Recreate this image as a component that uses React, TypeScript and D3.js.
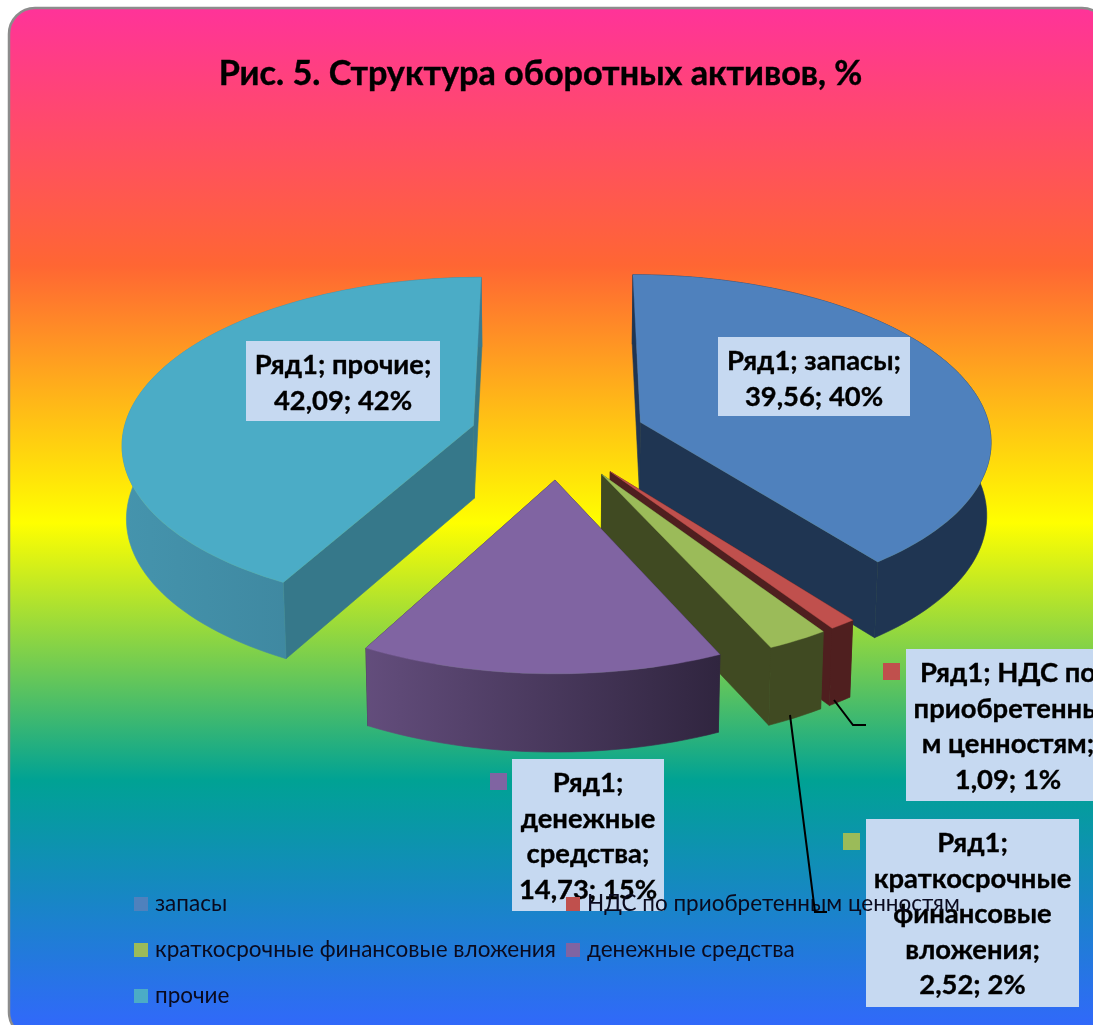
import React from "react";
import * as d3 from "d3";

const title = "Рис. 5. Структура оборотных активов, %";
const categories = ["запасы", "НДС по приобретенным ценностям", "краткосрочные финансовые вложения", "денежные средства", "прочие"];
const values = [39.56, 1.09, 2.52, 14.73, 42.09];
const labelLines = [
  ["Ряд1; запасы;", "39,56; 40%"],
  ["Ряд1; НДС по", "приобретенны", "м ценностям;", "1,09; 1%"],
  ["Ряд1;", "краткосрочные", "финансовые", "вложения;", "2,52; 2%"],
  ["Ряд1;", "денежные", "средства;", "14,73; 15%"],
  ["Ряд1; прочие;", "42,09; 42%"],
];
const topColors = ["#4f81bd", "#c0504d", "#9bbb59", "#8064a2", "#4bacc6"];
const wallFrom = ["#1f3552", "#4f1f1f", "#404a22", "#634d7c", "#4594ad"];
const wallTo = ["#1f3552", "#4f1f1f", "#404a22", "#30253f", "#387b93"];
const sideColors = ["#1f3552", "#4f1f1f", "#404a22", "#30253f", "#36788a"];
const drawOrder = [4, 0, 1, 2, 3];

const labelBoxes = [
  { x: 718, y: 337, w: 192, h: 79, key: null },
  { x: 906, y: 649, w: 204, h: 152, key: [883, 663] },
  { x: 866, y: 819, w: 213, h: 188, key: [843, 833] },
  { x: 512, y: 759, w: 152, h: 152, key: [490, 773] },
  { x: 246, y: 341, w: 194, h: 80, key: null },
];
const leaders = [
  [[834, 700], [853, 725], [866, 725]],
  [[790, 715], [815, 912], [827, 912]],
];
const legendSpots = [
  { x: 134, y: 897 },
  { x: 566, y: 897 },
  { x: 134, y: 943 },
  { x: 566, y: 943 },
  { x: 134, y: 989 },
];

const CX = 558, CY = 436, RX = 351, RY = 165, EXPLODE_X = 0.25, EXPLODE_Y = 0.26, PERSP = 0.1, DEPTH = 73, LEAN = 0.99;
const FONT = "Lato, 'Open Sans', sans-serif";
const xScale = d3.scaleLinear().domain([-1, 1]).range([-RX, RX]);
const yScale = d3.scaleLinear().domain([-1, 1]).range([-RY, RY]);

type P = [number, number];
const project = (wx: number, wy: number, low = false): P => {
  const s = 1 / (1 - PERSP * wy);
  const l = low ? LEAN : 1;
  return [CX + xScale(wx) * s * l, CY + yScale(wy) * s + (low ? DEPTH * (1 + 0.5 * (s - 1)) : 0)];
};
const line = d3.line<P>().x((d) => d[0]).y((d) => d[1]).curve(d3.curveLinear);
const poly = (pts: P[]) => line(pts) + "Z";

const pieArcs = d3.pie<number>().sort(null).startAngle(0).endAngle(2 * Math.PI)(values);

const slices = pieArcs.map((a, i) => {
  const mid = (a.startAngle + a.endAngle) / 2;
  const ox = EXPLODE_X * Math.sin(mid);
  const oy = -EXPLODE_Y * Math.cos(mid);
  const n = Math.max(4, Math.ceil((a.endAngle - a.startAngle) / 0.03));
  const angs = d3.range(n + 1).map((k) => a.startAngle + ((a.endAngle - a.startAngle) * k) / n);
  const rim = angs.map((t) => [ox + Math.sin(t), oy - Math.cos(t)] as P);
  const topRim = rim.map((p) => project(p[0], p[1]));
  const lowRim = rim.map((p) => project(p[0], p[1], true));
  const apex = project(ox, oy);
  const apexLow = project(ox, oy, true);
  const first = topRim[0], last = topRim[n], firstLow = lowRim[0], lastLow = lowRim[n];
  return {
    i,
    top: poly([apex, ...topRim]),
    sideA: poly([apex, first, firstLow, apexLow]),
    sideB: poly([apex, last, lastLow, apexLow]),
    wall: poly([...topRim, ...[...lowRim].reverse()]),
    x0: d3.min(topRim, (p) => p[0]) as number,
    x1: d3.max(topRim, (p) => p[0]) as number,
  };
});

export default function App() {
  return (
    <svg width={1093} height={1025} style={{ position: "fixed", left: 0, top: 0, display: "block" }} fontFamily={FONT}>
      <defs>
        <linearGradient id="bg" x1="0" y1="0" x2="0" y2="1">
          <stop offset="0" stopColor="#ff3399" />
          <stop offset="0.25" stopColor="#ff6633" />
          <stop offset="0.5" stopColor="#ffff00" />
          <stop offset="0.75" stopColor="#00a294" />
          <stop offset="1" stopColor="#3366ff" />
        </linearGradient>
        {slices.map((s) => (
          <linearGradient key={s.i} id={`wall${s.i}`} gradientUnits="userSpaceOnUse" x1={s.x0} x2={s.x1} y1="0" y2="0">
            <stop offset="0" stopColor={wallFrom[s.i]} />
            <stop offset="1" stopColor={wallTo[s.i]} />
          </linearGradient>
        ))}
      </defs>
      <rect x={9} y={8} width={1099} height={1030} rx={26} ry={26} fill="url(#bg)" stroke="#8c8c8c" strokeWidth={2.5} />
      <text x={540.5} y={85} textAnchor="middle" fontSize={34.2} fontWeight={700} fill="#000" stroke="#000" strokeWidth={0.4}>{title}</text>

      {drawOrder.map((i) => {
        const s = slices[i];
        return (
          <g key={i}>
            <path d={s.sideA} fill={sideColors[i]} stroke={sideColors[i]} strokeWidth={0.6} />
            <path d={s.sideB} fill={sideColors[i]} stroke={sideColors[i]} strokeWidth={0.6} />
            <path d={s.wall} fill={`url(#wall${i})`} stroke={`url(#wall${i})`} strokeWidth={0.6} />
            <path d={s.top} fill={topColors[i]} stroke={topColors[i]} strokeWidth={0.4} />
          </g>
        );
      })}

      {labelBoxes.map((b, i) => (
        <g key={i}>
          <rect x={b.x} y={b.y} width={b.w} height={b.h} fill="#c6d9f1" />
          {b.key && <rect x={b.key[0]} y={b.key[1]} width={17} height={17} fill={topColors[i]} />}
          {labelLines[i].map((t, k) => (
            <text key={k} x={b.x + b.w / 2} y={b.y + 33 + k * 35.5} textAnchor="middle" fontSize={27.4} fontWeight={700} fill="#000" stroke="#000" strokeWidth={0.35}>{t}</text>
          ))}
        </g>
      ))}

      {categories.map((c, i) => (
        <g key={c}>
          <rect x={legendSpots[i].x} y={legendSpots[i].y} width={14} height={14} fill={topColors[i]} />
          <text x={legendSpots[i].x + 21} y={legendSpots[i].y + 14} fontSize={22.5} fill="#0a0a1e">{c}</text>
        </g>
      ))}

      {leaders.map((l, i) => (
        <path key={i} d={d3.line()(l as P[]) as string} fill="none" stroke="#000" strokeWidth={2} />
      ))}
    </svg>
  );
}
